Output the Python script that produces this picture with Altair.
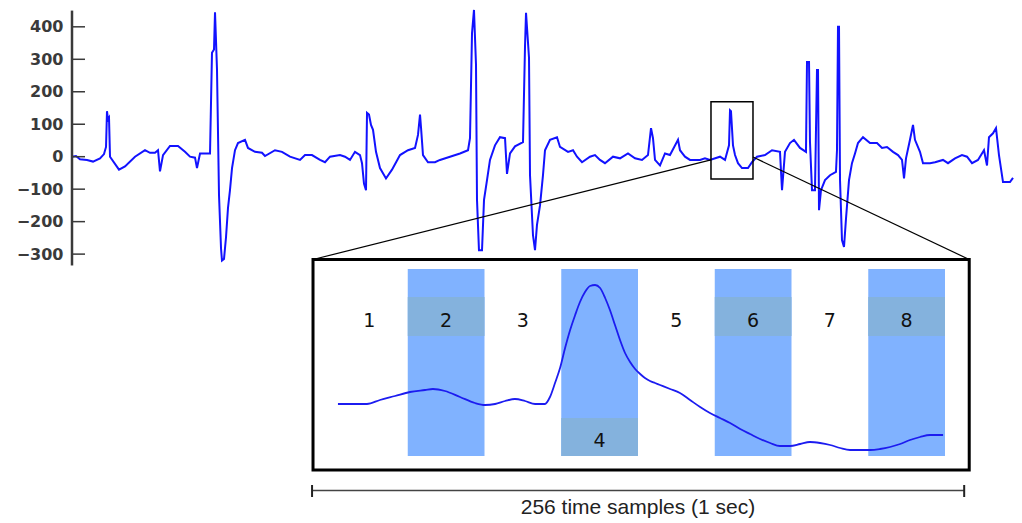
import altair as alt
import pandas as pd

# ---------------- data ----------------
# main recording: time (s) and amplitude
sig_t = [0, 0.095, 0.190, 0.357, 0.5, 0.667, 0.762, 0.810, 0.833, 0.857, 0.881, 0.905,
         1.119, 1.262, 1.5, 1.738, 1.857, 1.976, 2.048, 2.095, 2.167, 2.333, 2.524, 2.690,
         2.810, 2.929, 2.976, 3.048, 3.286, 3.333, 3.381, 3.405, 3.452, 3.5, 3.548, 3.571,
         3.619, 3.667, 3.714, 3.762, 3.810, 3.881, 3.952, 4.119, 4.190, 4.357, 4.524, 4.595,
         4.833, 5.0, 5.190, 5.429, 5.548, 5.714, 5.905, 6.024, 6.143, 6.381, 6.5, 6.619,
         6.738, 6.857, 6.905, 6.952, 7.0, 7.024, 7.071, 7.119, 7.167, 7.238, 7.333, 7.476,
         7.619, 7.810, 8.0, 8.167, 8.238, 8.286, 8.310, 8.357, 8.476, 8.643, 8.762, 9.0,
         9.238, 9.429, 9.476, 9.524, 9.571, 9.619, 9.643, 9.690, 9.762, 9.810, 9.881, 9.952,
         10.071, 10.190, 10.310, 10.357, 10.429, 10.548, 10.738, 10.786, 10.810, 10.881, 10.905,
         10.976, 11.024, 11.071, 11.143, 11.214, 11.262, 11.381, 11.548, 11.619, 11.810, 11.929,
         12.024, 12.143, 12.333, 12.452, 12.571, 12.690, 12.881, 13.048, 13.238, 13.405, 13.571,
         13.714, 13.786, 13.833, 13.881, 14.0, 14.119, 14.238, 14.429, 14.476, 14.524, 14.595,
         14.714, 14.952, 15.071, 15.190, 15.429, 15.548, 15.643, 15.667, 15.690, 15.738, 15.786,
         15.857, 15.952, 16.095, 16.190, 16.310, 16.5, 16.667, 16.857, 16.905, 16.976, 17.095,
         17.190, 17.333, 17.476, 17.5, 17.548, 17.571, 17.619, 17.690, 17.738, 17.762, 17.786,
         17.833, 17.929, 18.048, 18.190, 18.214, 18.238, 18.262, 18.286, 18.333, 18.381, 18.429,
         18.5, 18.571, 18.643, 18.714, 18.833, 19.0, 19.167, 19.286, 19.405, 19.548, 19.667,
         19.762, 19.810, 19.857, 19.952, 20.024, 20.071, 20.190, 20.262, 20.429, 20.548, 20.738,
         20.857, 21.024, 21.190, 21.310, 21.429, 21.571, 21.714, 21.786, 21.833, 21.929, 22.0,
         22.071, 22.167, 22.333, 22.405]
sig_v = [0, 2, -8, -10, -15, -5, 8, 30, 140, 115, 120, 0,
         -40, -30, 0, 20, 12, 12, 20, -45, 5, 33, 33, 15,
         0, -3, -35, 10, 10, 320, 330, 445, 270, -118, -282, -320,
         -315, -248, -158, -102, -35, 20, 42, 52, 27, 15, 12, 2,
         20, 15, 0, -10, 5, 5, -10, -17, 0, 5, 0, -10,
         15, 5, -20, -83, -103, 135, 130, 98, 83, 15, -35, -67,
         -40, 5, 20, 27, 67, 130, 90, 5, -17, -17, -10, 0,
         10, 20, 57, 380, 452, 283, -133, -288, -288, -133, -72, -10,
         35, 60, 57, -53, 10, 32, 45, 340, 443, 305, -57,
         -242, -288, -210, -150, -57, 20, 52, 60, 30, 15, 20,
         0, -17, 0, 5, -10, -20, 0, -5, 10, -5, -10,
         5, 88, 57, -10, -27, 10, 5, 52, 20, 12, 0,
         -10, -10, -5, -10, 0, -10, 35, 143, 140, 35, 5,
         -20, -35, -35, -17, 0, 5, 20, 15, -103, 15, 42,
         52, 27, 15, 292, 292, 45, -103, -103, 267, 267, -165,
         -103, -72, -57, -47, 20, 400, 400, -72, -257, -278, -190,
         -72, -20, 10, 42, 60, 42, 42, 27, 30, 15, 5,
         -10, -67, -5, 52, 98, 52, 15, -20, -20, -17, -10,
         -20, -5, 5, 0, -20, -10, 20, -27, 60, 72, 88,
         5, -78, -78, -65]

y_ticks = [-300, -200, -100, 0, 100, 200, 300, 400]
axis_extent = [-335, 450]

# highlighted one-second window
zoom_t = [15.214, 16.214]
zoom_v = [-69, 169]
link_v = [-10, -1]   # where the connector lines leave the window

# zoomed (smoothed) second: sample index 0..256 and amplitude
inset_s = [2.9, 7.9, 15, 20.4, 26.7, 32.9, 39.2, 42.5, 47.5, 53.8, 60, 64.2, 68.4, 72.6,
           76.7, 80.9, 85.1, 89.2, 91.3, 93.4, 95.5, 97.6, 99.7, 101.8, 103.8, 105.9, 108,
           110.1, 112.2, 114.3, 116.3, 118.4, 120.5, 122.6, 124.7, 126.8, 128.9, 130.9, 133,
           135.1, 137.2, 141.4, 145.5, 149.7, 153.9, 158, 162.2, 166.4, 170.6, 174.7, 178.9,
           183.1, 187.2, 191.4, 195.6, 199.7, 203.9, 208.1, 212.3, 216.4, 220.6, 224.8, 228.9,
           233.1, 237.3, 241.4, 245.6, 249.8, 255.2]
inset_v = [0, 0, 0, 4, 8, 12, 14, 15, 13, 7, 1, -1, 0, 3,
           5, 3, 0, 0, 7, 21, 36, 56, 74, 89, 102, 112, 118,
           119, 116, 106, 94, 79, 64, 51, 42, 35, 30, 26, 23,
           21, 19, 15, 11, 4, -3, -9, -14, -19, -25, -30, -35,
           -39, -42, -42, -40, -38, -39, -41, -44, -46, -46, -46, -45,
           -43, -40, -36, -33, -31, -31]

seg_labels = ["1", "2", "3", "4", "5", "6", "7", "8"]
seg_len = 32
shaded_segments = [2, 4, 6, 8]
bracket_text = "256 time samples (1 sec)"

# ---------------- layout ----------------
PLOT_W, PLOT_H = 942, 502
PAD = {"left": 64, "top": 0, "right": 0, "bottom": 13}

# main panel mapping
PX_PER_S = 42.0
ZERO_Y = 148.7
PX_PER_UNIT = 0.3247
main_x_dom = [0, PLOT_W / PX_PER_S]
main_y_dom = [-(PLOT_H - ZERO_Y) / PX_PER_UNIT, ZERO_Y / PX_PER_UNIT]

# inset mapping
IN_X0 = 259.0
IN_PPS = 614.0 / 256.0
IN_Y0 = 396.0
inset_x_dom = [-IN_X0 / IN_PPS, (PLOT_W - IN_X0) / IN_PPS]
inset_y_dom = [IN_Y0 - PLOT_H, IN_Y0]

frame_s = [-7.5, 266.1]
frame_v = [-66, 144.5]
band_v = [-52, 135]
box_hi = [68, 107]
box_lo = [-52, -14]
label_hi_v = 83
label_lo_v = -37
bracket_s = [-7.9, 264.0]
bracket_v = -86.5
bracket_tick = [-93, -81]
bracket_text_v = -104


def inset_to_main(s, v):
    px = IN_X0 + s * IN_PPS
    py = IN_Y0 - v
    return px / PX_PER_S, (ZERO_Y - py) / PX_PER_UNIT


# ---------------- tables ----------------
sig_df = pd.DataFrame({"t": sig_t, "v": sig_v})
tick_df = pd.DataFrame({"v": y_ticks})
axis_df = pd.DataFrame({"v0": [axis_extent[0]], "v1": [axis_extent[1]]})
zoom_df = pd.DataFrame({"t0": [zoom_t[0]], "t1": [zoom_t[1]], "v0": [zoom_v[0]], "v1": [zoom_v[1]]})
c_left = inset_to_main(frame_s[0], frame_v[1])
c_right = inset_to_main(frame_s[1], frame_v[1])
link_df = pd.DataFrame({
    "t0": [zoom_t[0], zoom_t[1]], "v0": link_v,
    "t1": [c_left[0], c_right[0]], "v1": [c_left[1], c_right[1]],
})

curve_df = pd.DataFrame({"s": inset_s, "v": inset_v})
band_df = pd.DataFrame({
    "s0": [(k - 1) * seg_len for k in shaded_segments],
    "s1": [k * seg_len for k in shaded_segments],
    "v0": [band_v[0]] * 4, "v1": [band_v[1]] * 4,
})
box_df = pd.DataFrame({
    "s0": [(k - 1) * seg_len for k in shaded_segments],
    "s1": [k * seg_len for k in shaded_segments],
    "v0": [box_hi[0], box_lo[0], box_hi[0], box_hi[0]],
    "v1": [box_hi[1], box_lo[1], box_hi[1], box_hi[1]],
})
label_df = pd.DataFrame({
    "s": [i * seg_len + seg_len / 2 for i in range(8)],
    "v": [label_lo_v if lab == "4" else label_hi_v for lab in seg_labels],
    "label": seg_labels,
})
frame_df = pd.DataFrame({"s0": [frame_s[0]], "s1": [frame_s[1]], "v0": [frame_v[0]], "v1": [frame_v[1]]})
bracket_df = pd.DataFrame({"s0": [bracket_s[0]], "s1": [bracket_s[1]], "v": [bracket_v]})
bticks_df = pd.DataFrame({"s": bracket_s, "v0": [bracket_tick[0]] * 2, "v1": [bracket_tick[1]] * 2})
btext_df = pd.DataFrame({"s": [128], "v": [bracket_text_v], "label": [bracket_text]})

# ---------------- scales ----------------
mxs = alt.Scale(domain=main_x_dom, nice=False, zero=False)
mys = alt.Scale(domain=main_y_dom, nice=False, zero=False)
ixs = alt.Scale(domain=inset_x_dom, nice=False, zero=False)
iys = alt.Scale(domain=inset_y_dom, nice=False, zero=False)

y_axis = alt.Axis(values=y_ticks, ticks=False, domain=False, grid=False, title=None,
                  labelPadding=9, labelFont="DejaVu Sans", labelFontWeight="bold",
                  labelFontSize=16, labelColor="#3a3a3a")

signal = alt.Chart(sig_df).mark_line(color="#1212ff", strokeWidth=2).encode(
    x=alt.X("t:Q", scale=mxs, axis=None),
    y=alt.Y("v:Q", scale=mys, axis=y_axis),
)
axis_line = alt.Chart(axis_df).mark_rule(color="#3a3a3a", strokeWidth=2.5).encode(
    x=alt.value(0),
    y=alt.Y("v0:Q", scale=mys, axis=y_axis),
    y2="v1:Q",
)
ticks = alt.Chart(tick_df).mark_rule(color="#3a3a3a", strokeWidth=1.5).encode(
    x=alt.value(0), x2=alt.value(13),
    y=alt.Y("v:Q", scale=mys, axis=y_axis),
)
zoom_box = alt.Chart(zoom_df).mark_rect(filled=False, stroke="black", strokeWidth=1.5).encode(
    x=alt.X("t0:Q", scale=mxs, axis=None), x2="t1:Q",
    y=alt.Y("v0:Q", scale=mys, axis=y_axis), y2="v1:Q",
)
links = alt.Chart(link_df).mark_rule(color="black", strokeWidth=1.2).encode(
    x=alt.X("t0:Q", scale=mxs, axis=None), x2="t1:Q",
    y=alt.Y("v0:Q", scale=mys, axis=y_axis), y2="v1:Q",
)
main = alt.layer(signal, axis_line, ticks, links, zoom_box)

bands = alt.Chart(band_df).mark_rect(color="#80b2ff").encode(
    x=alt.X("s0:Q", scale=ixs, axis=None), x2="s1:Q",
    y=alt.Y("v0:Q", scale=iys, axis=None), y2="v1:Q",
)
boxes = alt.Chart(box_df).mark_rect(color="#84b2dd").encode(
    x=alt.X("s0:Q", scale=ixs, axis=None), x2="s1:Q",
    y=alt.Y("v0:Q", scale=iys, axis=None), y2="v1:Q",
)
curve = alt.Chart(curve_df).mark_line(color="#1c1cf0", strokeWidth=1.8, interpolate="monotone").encode(
    x=alt.X("s:Q", scale=ixs, axis=None),
    y=alt.Y("v:Q", scale=iys, axis=None),
)
labels = alt.Chart(label_df).mark_text(font="DejaVu Sans", fontSize=19, color="#111111",
                                       baseline="middle", align="center").encode(
    x=alt.X("s:Q", scale=ixs, axis=None),
    y=alt.Y("v:Q", scale=iys, axis=None),
    text="label:N",
)
frame = alt.Chart(frame_df).mark_rect(filled=False, stroke="black", strokeWidth=3).encode(
    x=alt.X("s0:Q", scale=ixs, axis=None), x2="s1:Q",
    y=alt.Y("v0:Q", scale=iys, axis=None), y2="v1:Q",
)
bracket = alt.Chart(bracket_df).mark_rule(color="#444444", strokeWidth=1.6).encode(
    x=alt.X("s0:Q", scale=ixs, axis=None), x2="s1:Q",
    y=alt.Y("v:Q", scale=iys, axis=None),
)
bticks = alt.Chart(bticks_df).mark_rule(color="#222222", strokeWidth=2).encode(
    x=alt.X("s:Q", scale=ixs, axis=None),
    y=alt.Y("v0:Q", scale=iys, axis=None), y2="v1:Q",
)
btext = alt.Chart(btext_df).mark_text(font="Liberation Sans", fontSize=21, color="#222222",
                                      baseline="middle", align="center").encode(
    x=alt.X("s:Q", scale=ixs, axis=None),
    y=alt.Y("v:Q", scale=iys, axis=None),
    text="label:N",
)
inset = alt.layer(bands, boxes, curve, labels, frame, bracket, bticks, btext)

chart = alt.layer(main, inset).resolve_scale(x="independent", y="independent").properties(
    width=PLOT_W, height=PLOT_H, padding=PAD,
    autosize=alt.AutoSizeParams(type="none"),
    background="white",
).configure_view(strokeWidth=0)

chart.save("out.html", embed_options={"renderer": "svg", "actions": False})
